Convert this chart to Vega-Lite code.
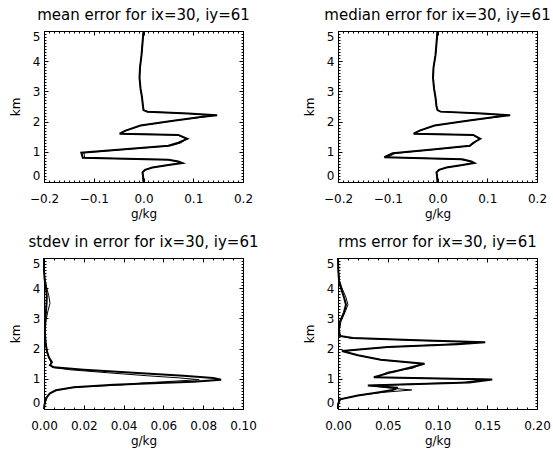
{
  "$schema": "https://vega.github.io/schema/vega-lite/v6.json",
  "padding": {"left": 8, "top": 7, "right": 2, "bottom": 2},
  "background": "white",
  "columns": 2,
  "spacing": {"row": 76, "column": 95},
  "bounds": "flush",
  "datasets": {
    "mean": [
      {"i":0,"km":5.0,"thick":0.0,"thin":0.0},
      {"i":1,"km":4.6,"thick":-0.002,"thin":-0.002},
      {"i":2,"km":4.2,"thick":-0.004,"thin":-0.004},
      {"i":3,"km":3.8,"thick":-0.007,"thin":-0.007},
      {"i":4,"km":3.45,"thick":-0.008,"thin":-0.008},
      {"i":5,"km":3.1,"thick":-0.006,"thin":-0.006},
      {"i":6,"km":2.8,"thick":-0.003,"thin":-0.003},
      {"i":7,"km":2.5,"thick":-0.001,"thin":-0.001},
      {"i":8,"km":2.38,"thick":0.0,"thin":0.0},
      {"i":9,"km":2.33,"thick":0.008,"thin":0.008},
      {"i":10,"km":2.27,"thick":0.09,"thin":0.085},
      {"i":11,"km":2.21,"thick":0.148,"thin":0.138},
      {"i":12,"km":2.15,"thick":0.115,"thin":0.12},
      {"i":13,"km":2.03,"thick":0.06,"thin":0.06},
      {"i":14,"km":1.87,"thick":-0.006,"thin":-0.006},
      {"i":15,"km":1.7,"thick":-0.036,"thin":-0.036},
      {"i":16,"km":1.6,"thick":-0.048,"thin":-0.046},
      {"i":17,"km":1.56,"thick":0.07,"thin":0.068},
      {"i":18,"km":1.43,"thick":0.088,"thin":0.086},
      {"i":19,"km":1.3,"thick":0.07,"thin":0.076},
      {"i":20,"km":1.2,"thick":0.05,"thin":0.055},
      {"i":21,"km":1.1,"thick":-0.026,"thin":-0.02},
      {"i":22,"km":0.97,"thick":-0.125,"thin":-0.12},
      {"i":23,"km":0.8,"thick":-0.122,"thin":-0.118},
      {"i":24,"km":0.74,"thick":0.05,"thin":0.05},
      {"i":25,"km":0.68,"thick":0.07,"thin":0.068},
      {"i":26,"km":0.63,"thick":0.078,"thin":0.075},
      {"i":27,"km":0.56,"thick":0.05,"thin":0.05},
      {"i":28,"km":0.48,"thick":0.018,"thin":0.018},
      {"i":29,"km":0.4,"thick":0.003,"thin":0.003},
      {"i":30,"km":0.32,"thick":-0.002,"thin":-0.002},
      {"i":31,"km":0.2,"thick":-0.001,"thin":-0.001},
      {"i":32,"km":0.0,"thick":0.0,"thin":0.0}
    ],
    "median": [
      {"i":0,"km":5.0,"thick":0.0,"thin":0.0},
      {"i":1,"km":4.6,"thick":-0.002,"thin":-0.002},
      {"i":2,"km":4.2,"thick":-0.004,"thin":-0.004},
      {"i":3,"km":3.8,"thick":-0.008,"thin":-0.008},
      {"i":4,"km":3.45,"thick":-0.009,"thin":-0.009},
      {"i":5,"km":3.1,"thick":-0.007,"thin":-0.007},
      {"i":6,"km":2.8,"thick":-0.004,"thin":-0.004},
      {"i":7,"km":2.5,"thick":-0.002,"thin":-0.002},
      {"i":8,"km":2.38,"thick":0.0,"thin":0.0},
      {"i":9,"km":2.33,"thick":0.006,"thin":0.006},
      {"i":10,"km":2.27,"thick":0.09,"thin":0.085},
      {"i":11,"km":2.21,"thick":0.146,"thin":0.136},
      {"i":12,"km":2.15,"thick":0.115,"thin":0.12},
      {"i":13,"km":2.03,"thick":0.06,"thin":0.06},
      {"i":14,"km":1.87,"thick":-0.006,"thin":-0.006},
      {"i":15,"km":1.7,"thick":-0.036,"thin":-0.036},
      {"i":16,"km":1.6,"thick":-0.048,"thin":-0.046},
      {"i":17,"km":1.56,"thick":0.072,"thin":0.07},
      {"i":18,"km":1.43,"thick":0.086,"thin":0.084},
      {"i":19,"km":1.3,"thick":0.072,"thin":0.075},
      {"i":20,"km":1.2,"thick":0.065,"thin":0.066},
      {"i":21,"km":1.08,"thick":-0.01,"thin":-0.005},
      {"i":22,"km":0.95,"thick":-0.09,"thin":-0.085},
      {"i":23,"km":0.82,"thick":-0.107,"thin":-0.1},
      {"i":24,"km":0.75,"thick":0.05,"thin":0.045},
      {"i":25,"km":0.68,"thick":0.068,"thin":0.066},
      {"i":26,"km":0.63,"thick":0.074,"thin":0.072},
      {"i":27,"km":0.56,"thick":0.05,"thin":0.05},
      {"i":28,"km":0.48,"thick":0.018,"thin":0.018},
      {"i":29,"km":0.4,"thick":0.003,"thin":0.003},
      {"i":30,"km":0.32,"thick":-0.002,"thin":-0.002},
      {"i":31,"km":0.2,"thick":-0.001,"thin":-0.001},
      {"i":32,"km":0.0,"thick":0.0,"thin":0.0}
    ],
    "stdev": [
      {"i":0,"km":5.0,"thick":0.0,"thin":0.0},
      {"i":1,"km":4.6,"thick":0.0,"thin":0.0},
      {"i":2,"km":4.3,"thick":0.0003,"thin":0.0004},
      {"i":3,"km":4.0,"thick":0.001,"thin":0.0014},
      {"i":4,"km":3.75,"thick":0.0014,"thin":0.0024},
      {"i":5,"km":3.5,"thick":0.0013,"thin":0.003},
      {"i":6,"km":3.25,"thick":0.001,"thin":0.002},
      {"i":7,"km":2.9,"thick":0.0006,"thin":0.0009},
      {"i":8,"km":2.5,"thick":0.0005,"thin":0.0005},
      {"i":9,"km":2.2,"thick":0.0008,"thin":0.0008},
      {"i":10,"km":1.9,"thick":0.0015,"thin":0.0015},
      {"i":11,"km":1.7,"thick":0.0025,"thin":0.0025},
      {"i":12,"km":1.55,"thick":0.004,"thin":0.0035},
      {"i":13,"km":1.45,"thick":0.003,"thin":0.003},
      {"i":14,"km":1.38,"thick":0.005,"thin":0.004},
      {"i":15,"km":1.3,"thick":0.02,"thin":0.013},
      {"i":16,"km":1.2,"thick":0.045,"thin":0.032},
      {"i":17,"km":1.1,"thick":0.07,"thin":0.052},
      {"i":18,"km":1.03,"thick":0.085,"thin":0.068},
      {"i":19,"km":0.97,"thick":0.089,"thin":0.078},
      {"i":20,"km":0.9,"thick":0.075,"thin":0.06},
      {"i":21,"km":0.86,"thick":0.058,"thin":0.049},
      {"i":22,"km":0.8,"thick":0.035,"thin":0.04},
      {"i":23,"km":0.72,"thick":0.015,"thin":0.015},
      {"i":24,"km":0.62,"thick":0.006,"thin":0.006},
      {"i":25,"km":0.52,"thick":0.003,"thin":0.003},
      {"i":26,"km":0.4,"thick":0.0015,"thin":0.0015},
      {"i":27,"km":0.28,"thick":0.0007,"thin":0.0007},
      {"i":28,"km":0.12,"thick":0.0002,"thin":0.0002},
      {"i":29,"km":0.0,"thick":0.0,"thin":0.0}
    ],
    "rms": [
      {"i":0,"km":5.0,"thick":0.0,"thin":0.0},
      {"i":1,"km":4.6,"thick":0.0003,"thin":0.0003},
      {"i":2,"km":4.25,"thick":0.001,"thin":0.0015},
      {"i":3,"km":4.0,"thick":0.003,"thin":0.004},
      {"i":4,"km":3.7,"thick":0.006,"thin":0.008},
      {"i":5,"km":3.45,"thick":0.008,"thin":0.01},
      {"i":6,"km":3.2,"thick":0.006,"thin":0.007},
      {"i":7,"km":2.9,"thick":0.002,"thin":0.003},
      {"i":8,"km":2.6,"thick":0.001,"thin":0.001},
      {"i":9,"km":2.42,"thick":0.002,"thin":0.002},
      {"i":10,"km":2.35,"thick":0.015,"thin":0.012},
      {"i":11,"km":2.28,"thick":0.08,"thin":0.075},
      {"i":12,"km":2.21,"thick":0.148,"thin":0.14},
      {"i":13,"km":2.14,"thick":0.12,"thin":0.11},
      {"i":14,"km":2.05,"thick":0.05,"thin":0.05},
      {"i":15,"km":1.92,"thick":0.004,"thin":0.004},
      {"i":16,"km":1.78,"thick":0.02,"thin":0.02},
      {"i":17,"km":1.63,"thick":0.043,"thin":0.043},
      {"i":18,"km":1.5,"thick":0.087,"thin":0.085},
      {"i":19,"km":1.35,"thick":0.07,"thin":0.075},
      {"i":20,"km":1.22,"thick":0.054,"thin":0.05},
      {"i":21,"km":1.05,"thick":0.036,"thin":0.038},
      {"i":22,"km":0.98,"thick":0.155,"thin":0.15},
      {"i":23,"km":0.88,"thick":0.132,"thin":0.125},
      {"i":24,"km":0.78,"thick":0.03,"thin":0.032},
      {"i":25,"km":0.7,"thick":0.06,"thin":0.05},
      {"i":26,"km":0.63,"thick":0.055,"thin":0.074},
      {"i":27,"km":0.55,"thick":0.04,"thin":0.045},
      {"i":28,"km":0.45,"thick":0.02,"thin":0.02},
      {"i":29,"km":0.32,"thick":0.002,"thin":0.002},
      {"i":30,"km":0.15,"thick":0.0,"thin":0.0},
      {"i":31,"km":0.0,"thick":0.0,"thin":0.0}
    ]
  },
  "concat": [
    {
      "width": 199, "height": 151,
      "title": "mean error for ix=30, iy=61",
      "data": {"name": "mean"},
      "layer": [
        {"mark": {"type": "line", "color": "black", "strokeWidth": 2},
         "encoding": {
           "x": {"field": "thick", "type": "quantitative", "scale": {"domain": [-0.2, 0.2], "nice": false, "zero": false},
                 "axis": {"orient": "bottom", "title": "g/kg", "labelFlush": false, "labelPadding": 15, "titlePadding": 4,
                   "values": [-0.2,-0.19,-0.18,-0.17,-0.16,-0.15,-0.14,-0.13,-0.12,-0.11,-0.1,-0.09,-0.08,-0.07,-0.06,-0.05,-0.04,-0.03,-0.02,-0.01,0,0.01,0.02,0.03,0.04,0.05,0.06,0.07,0.08,0.09,0.1,0.11,0.12,0.13,0.14,0.15,0.16,0.17,0.18,0.19,0.2],
                   "labelExpr": "abs(datum.value*10-round(datum.value*10))<0.000001 ? format(datum.value,'.1f') : ''",
                   "tickDash": {"condition": {"test": "abs(datum.value*10-round(datum.value*10))<0.000001", "value": [10, 0]}, "value": [2, 20]}}},
           "y": {"field": "km", "type": "quantitative", "scale": {"domain": [0, 5], "nice": false},
                 "axis": {"orient": "left", "title": "km", "labelFlush": true, "labelPadding": 8, "titlePadding": 10,
                   "values": [0,0.1,0.2,0.3,0.4,0.5,0.6,0.7,0.8,0.9,1,1.1,1.2,1.3,1.4,1.5,1.6,1.7,1.8,1.9,2,2.1,2.2,2.3,2.4,2.5,2.6,2.7,2.8,2.9,3,3.1,3.2,3.3,3.4,3.5,3.6,3.7,3.8,3.9,4,4.1,4.2,4.3,4.4,4.5,4.6,4.7,4.8,4.9,5],
                   "labelExpr": "abs(datum.value-round(datum.value))<0.000001 ? format(datum.value,'d') : ''",
                   "tickDash": {"condition": {"test": "abs(datum.value-round(datum.value))<0.000001", "value": [10, 0]}, "value": [2, 20]}}},
           "order": {"field": "i", "type": "quantitative"}
         }},
        {"mark": {"type": "line", "color": "black", "strokeWidth": 1},
         "encoding": {
           "x": {"field": "thin", "type": "quantitative", "scale": {"domain": [-0.2, 0.2], "nice": false, "zero": false},
                 "axis": {"orient": "top", "title": null, "labels": false,
                   "values": [-0.2,-0.19,-0.18,-0.17,-0.16,-0.15,-0.14,-0.13,-0.12,-0.11,-0.1,-0.09,-0.08,-0.07,-0.06,-0.05,-0.04,-0.03,-0.02,-0.01,0,0.01,0.02,0.03,0.04,0.05,0.06,0.07,0.08,0.09,0.1,0.11,0.12,0.13,0.14,0.15,0.16,0.17,0.18,0.19,0.2],
                   "tickDash": {"condition": {"test": "abs(datum.value*10-round(datum.value*10))<0.000001", "value": [10, 0]}, "value": [2, 20]}}},
           "y": {"field": "km", "type": "quantitative", "scale": {"domain": [0, 5], "nice": false},
                 "axis": {"orient": "right", "title": null, "labels": false,
                   "values": [0,0.1,0.2,0.3,0.4,0.5,0.6,0.7,0.8,0.9,1,1.1,1.2,1.3,1.4,1.5,1.6,1.7,1.8,1.9,2,2.1,2.2,2.3,2.4,2.5,2.6,2.7,2.8,2.9,3,3.1,3.2,3.3,3.4,3.5,3.6,3.7,3.8,3.9,4,4.1,4.2,4.3,4.4,4.5,4.6,4.7,4.8,4.9,5],
                   "tickDash": {"condition": {"test": "abs(datum.value-round(datum.value))<0.000001", "value": [10, 0]}, "value": [2, 20]}}},
           "order": {"field": "i", "type": "quantitative"}
         }}
      ],
      "resolve": {"axis": {"x": "independent", "y": "independent"}}
    },
    {
      "width": 199, "height": 151,
      "title": "median error for ix=30, iy=61",
      "data": {"name": "median"},
      "layer": [
        {"mark": {"type": "line", "color": "black", "strokeWidth": 2},
         "encoding": {
           "x": {"field": "thick", "type": "quantitative", "scale": {"domain": [-0.2, 0.2], "nice": false, "zero": false},
                 "axis": {"orient": "bottom", "title": "g/kg", "labelFlush": false, "labelPadding": 15, "titlePadding": 4,
                   "values": [-0.2,-0.19,-0.18,-0.17,-0.16,-0.15,-0.14,-0.13,-0.12,-0.11,-0.1,-0.09,-0.08,-0.07,-0.06,-0.05,-0.04,-0.03,-0.02,-0.01,0,0.01,0.02,0.03,0.04,0.05,0.06,0.07,0.08,0.09,0.1,0.11,0.12,0.13,0.14,0.15,0.16,0.17,0.18,0.19,0.2],
                   "labelExpr": "abs(datum.value*10-round(datum.value*10))<0.000001 ? format(datum.value,'.1f') : ''",
                   "tickDash": {"condition": {"test": "abs(datum.value*10-round(datum.value*10))<0.000001", "value": [10, 0]}, "value": [2, 20]}}},
           "y": {"field": "km", "type": "quantitative", "scale": {"domain": [0, 5], "nice": false},
                 "axis": {"orient": "left", "title": "km", "labelFlush": true, "labelPadding": 8, "titlePadding": 10,
                   "values": [0,0.1,0.2,0.3,0.4,0.5,0.6,0.7,0.8,0.9,1,1.1,1.2,1.3,1.4,1.5,1.6,1.7,1.8,1.9,2,2.1,2.2,2.3,2.4,2.5,2.6,2.7,2.8,2.9,3,3.1,3.2,3.3,3.4,3.5,3.6,3.7,3.8,3.9,4,4.1,4.2,4.3,4.4,4.5,4.6,4.7,4.8,4.9,5],
                   "labelExpr": "abs(datum.value-round(datum.value))<0.000001 ? format(datum.value,'d') : ''",
                   "tickDash": {"condition": {"test": "abs(datum.value-round(datum.value))<0.000001", "value": [10, 0]}, "value": [2, 20]}}},
           "order": {"field": "i", "type": "quantitative"}
         }},
        {"mark": {"type": "line", "color": "black", "strokeWidth": 1},
         "encoding": {
           "x": {"field": "thin", "type": "quantitative", "scale": {"domain": [-0.2, 0.2], "nice": false, "zero": false},
                 "axis": {"orient": "top", "title": null, "labels": false,
                   "values": [-0.2,-0.19,-0.18,-0.17,-0.16,-0.15,-0.14,-0.13,-0.12,-0.11,-0.1,-0.09,-0.08,-0.07,-0.06,-0.05,-0.04,-0.03,-0.02,-0.01,0,0.01,0.02,0.03,0.04,0.05,0.06,0.07,0.08,0.09,0.1,0.11,0.12,0.13,0.14,0.15,0.16,0.17,0.18,0.19,0.2],
                   "tickDash": {"condition": {"test": "abs(datum.value*10-round(datum.value*10))<0.000001", "value": [10, 0]}, "value": [2, 20]}}},
           "y": {"field": "km", "type": "quantitative", "scale": {"domain": [0, 5], "nice": false},
                 "axis": {"orient": "right", "title": null, "labels": false,
                   "values": [0,0.1,0.2,0.3,0.4,0.5,0.6,0.7,0.8,0.9,1,1.1,1.2,1.3,1.4,1.5,1.6,1.7,1.8,1.9,2,2.1,2.2,2.3,2.4,2.5,2.6,2.7,2.8,2.9,3,3.1,3.2,3.3,3.4,3.5,3.6,3.7,3.8,3.9,4,4.1,4.2,4.3,4.4,4.5,4.6,4.7,4.8,4.9,5],
                   "tickDash": {"condition": {"test": "abs(datum.value-round(datum.value))<0.000001", "value": [10, 0]}, "value": [2, 20]}}},
           "order": {"field": "i", "type": "quantitative"}
         }}
      ],
      "resolve": {"axis": {"x": "independent", "y": "independent"}}
    },
    {
      "width": 199, "height": 151,
      "title": "stdev in error for ix=30, iy=61",
      "data": {"name": "stdev"},
      "layer": [
        {"mark": {"type": "line", "color": "black", "strokeWidth": 2},
         "encoding": {
           "x": {"field": "thick", "type": "quantitative", "scale": {"domain": [0, 0.1], "nice": false, "zero": false},
                 "axis": {"orient": "bottom", "title": "g/kg", "labelFlush": false, "labelPadding": 15, "titlePadding": 4,
                   "values": [0,0.005,0.01,0.015,0.02,0.025,0.03,0.035,0.04,0.045,0.05,0.055,0.06,0.065,0.07,0.075,0.08,0.085,0.09,0.095,0.1],
                   "labelExpr": "abs(datum.value*50-round(datum.value*50))<0.000001 ? format(datum.value,'.2f') : ''",
                   "tickDash": {"condition": {"test": "abs(datum.value*50-round(datum.value*50))<0.000001", "value": [10, 0]}, "value": [2, 20]}}},
           "y": {"field": "km", "type": "quantitative", "scale": {"domain": [0, 5], "nice": false},
                 "axis": {"orient": "left", "title": "km", "labelFlush": true, "labelPadding": 8, "titlePadding": 10,
                   "values": [0,0.1,0.2,0.3,0.4,0.5,0.6,0.7,0.8,0.9,1,1.1,1.2,1.3,1.4,1.5,1.6,1.7,1.8,1.9,2,2.1,2.2,2.3,2.4,2.5,2.6,2.7,2.8,2.9,3,3.1,3.2,3.3,3.4,3.5,3.6,3.7,3.8,3.9,4,4.1,4.2,4.3,4.4,4.5,4.6,4.7,4.8,4.9,5],
                   "labelExpr": "abs(datum.value-round(datum.value))<0.000001 ? format(datum.value,'d') : ''",
                   "tickDash": {"condition": {"test": "abs(datum.value-round(datum.value))<0.000001", "value": [10, 0]}, "value": [2, 20]}}},
           "order": {"field": "i", "type": "quantitative"}
         }},
        {"mark": {"type": "line", "color": "black", "strokeWidth": 1},
         "encoding": {
           "x": {"field": "thin", "type": "quantitative", "scale": {"domain": [0, 0.1], "nice": false, "zero": false},
                 "axis": {"orient": "top", "title": null, "labels": false,
                   "values": [0,0.005,0.01,0.015,0.02,0.025,0.03,0.035,0.04,0.045,0.05,0.055,0.06,0.065,0.07,0.075,0.08,0.085,0.09,0.095,0.1],
                   "tickDash": {"condition": {"test": "abs(datum.value*50-round(datum.value*50))<0.000001", "value": [10, 0]}, "value": [2, 20]}}},
           "y": {"field": "km", "type": "quantitative", "scale": {"domain": [0, 5], "nice": false},
                 "axis": {"orient": "right", "title": null, "labels": false,
                   "values": [0,0.1,0.2,0.3,0.4,0.5,0.6,0.7,0.8,0.9,1,1.1,1.2,1.3,1.4,1.5,1.6,1.7,1.8,1.9,2,2.1,2.2,2.3,2.4,2.5,2.6,2.7,2.8,2.9,3,3.1,3.2,3.3,3.4,3.5,3.6,3.7,3.8,3.9,4,4.1,4.2,4.3,4.4,4.5,4.6,4.7,4.8,4.9,5],
                   "tickDash": {"condition": {"test": "abs(datum.value-round(datum.value))<0.000001", "value": [10, 0]}, "value": [2, 20]}}},
           "order": {"field": "i", "type": "quantitative"}
         }}
      ],
      "resolve": {"axis": {"x": "independent", "y": "independent"}}
    },
    {
      "width": 199, "height": 151,
      "title": "rms error for ix=30, iy=61",
      "data": {"name": "rms"},
      "layer": [
        {"mark": {"type": "line", "color": "black", "strokeWidth": 2},
         "encoding": {
           "x": {"field": "thick", "type": "quantitative", "scale": {"domain": [0, 0.2], "nice": false, "zero": false},
                 "axis": {"orient": "bottom", "title": "g/kg", "labelFlush": false, "labelPadding": 15, "titlePadding": 4,
                   "values": [0,0.01,0.02,0.03,0.04,0.05,0.06,0.07,0.08,0.09,0.1,0.11,0.12,0.13,0.14,0.15,0.16,0.17,0.18,0.19,0.2],
                   "labelExpr": "abs(datum.value*20-round(datum.value*20))<0.000001 ? format(datum.value,'.2f') : ''",
                   "tickDash": {"condition": {"test": "abs(datum.value*20-round(datum.value*20))<0.000001", "value": [10, 0]}, "value": [2, 20]}}},
           "y": {"field": "km", "type": "quantitative", "scale": {"domain": [0, 5], "nice": false},
                 "axis": {"orient": "left", "title": "km", "labelFlush": true, "labelPadding": 8, "titlePadding": 10,
                   "values": [0,0.1,0.2,0.3,0.4,0.5,0.6,0.7,0.8,0.9,1,1.1,1.2,1.3,1.4,1.5,1.6,1.7,1.8,1.9,2,2.1,2.2,2.3,2.4,2.5,2.6,2.7,2.8,2.9,3,3.1,3.2,3.3,3.4,3.5,3.6,3.7,3.8,3.9,4,4.1,4.2,4.3,4.4,4.5,4.6,4.7,4.8,4.9,5],
                   "labelExpr": "abs(datum.value-round(datum.value))<0.000001 ? format(datum.value,'d') : ''",
                   "tickDash": {"condition": {"test": "abs(datum.value-round(datum.value))<0.000001", "value": [10, 0]}, "value": [2, 20]}}},
           "order": {"field": "i", "type": "quantitative"}
         }},
        {"mark": {"type": "line", "color": "black", "strokeWidth": 1},
         "encoding": {
           "x": {"field": "thin", "type": "quantitative", "scale": {"domain": [0, 0.2], "nice": false, "zero": false},
                 "axis": {"orient": "top", "title": null, "labels": false,
                   "values": [0,0.01,0.02,0.03,0.04,0.05,0.06,0.07,0.08,0.09,0.1,0.11,0.12,0.13,0.14,0.15,0.16,0.17,0.18,0.19,0.2],
                   "tickDash": {"condition": {"test": "abs(datum.value*20-round(datum.value*20))<0.000001", "value": [10, 0]}, "value": [2, 20]}}},
           "y": {"field": "km", "type": "quantitative", "scale": {"domain": [0, 5], "nice": false},
                 "axis": {"orient": "right", "title": null, "labels": false,
                   "values": [0,0.1,0.2,0.3,0.4,0.5,0.6,0.7,0.8,0.9,1,1.1,1.2,1.3,1.4,1.5,1.6,1.7,1.8,1.9,2,2.1,2.2,2.3,2.4,2.5,2.6,2.7,2.8,2.9,3,3.1,3.2,3.3,3.4,3.5,3.6,3.7,3.8,3.9,4,4.1,4.2,4.3,4.4,4.5,4.6,4.7,4.8,4.9,5],
                   "tickDash": {"condition": {"test": "abs(datum.value-round(datum.value))<0.000001", "value": [10, 0]}, "value": [2, 20]}}},
           "order": {"field": "i", "type": "quantitative"}
         }}
      ],
      "resolve": {"axis": {"x": "independent", "y": "independent"}}
    }
  ],
  "config": {
    "font": "DejaVu Sans",
    "view": {"stroke": "black", "strokeWidth": 1},
    "axis": {"grid": false, "tickSize": -4, "tickWidth": 1, "tickColor": "black", "domainColor": "black", "labelFont": "DejaVu Sans", "labelFontSize": 12, "labelColor": "black", "titleFont": "DejaVu Sans", "titleFontSize": 12, "titleFontWeight": "normal", "titleColor": "black", "labelOverlap": false},
    "title": {"font": "DejaVu Sans", "fontSize": 15, "fontWeight": "normal", "color": "black", "offset": 4},
    "line": {"strokeJoin": "miter", "strokeMiterLimit": 4}
  }
}
